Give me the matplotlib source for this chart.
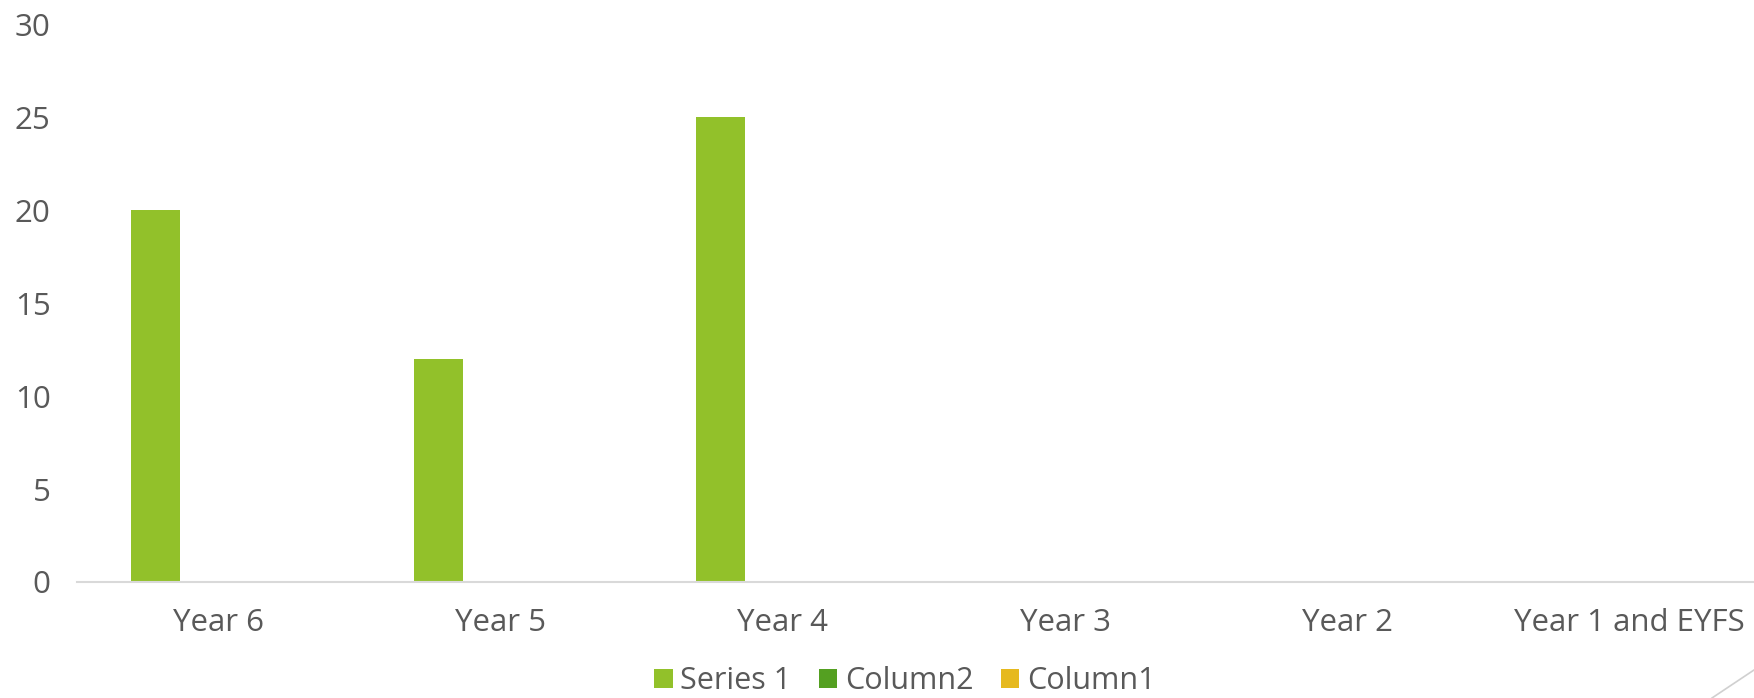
import matplotlib
matplotlib.use("Agg")
import matplotlib.pyplot as plt
from matplotlib.lines import Line2D
from matplotlib.patches import Patch
import numpy as np

# --- data ---
categories = ["Year 6", "Year 5", "Year 4", "Year 3", "Year 2", "Year 1 and EYFS"]
series_names = ["Series 1", "Column2", "Column1"]
series_1 = [20, 12, 25, 0, 0, 0]
column2 = [0, 0, 0, 0, 0, 0]
column1 = [0, 0, 0, 0, 0, 0]
y_ticks = [0, 5, 10, 15, 20, 25, 30]

colors = ["#92C12A", "#54A021", "#E6B91E"]
text_color = "#595959"

plt.rcParams["font.family"] = ["Open Sans", "DejaVu Sans"]

fig = plt.figure(figsize=(17.54, 6.98), dpi=100)
ax = fig.add_axes([0.0439, 0.1662, 0.9658, 0.7986])

x = np.arange(len(categories))
width = 0.1735
offsets = [-0.221, 0.0, 0.221]
for vals, off, col, name in zip([series_1, column2, column1], offsets, colors, series_names):
    ax.bar(x + off, vals, width=width, color=col, linewidth=0, label=name)

ax.set_xlim(-0.5, len(categories) - 0.5)
ax.set_ylim(0, 30)
ax.set_yticks(y_ticks)
ax.set_xticks(x)
ax.set_xticklabels(categories)

for side in ["top", "right", "left"]:
    ax.spines[side].set_visible(False)
ax.spines["bottom"].set_color("#D9D9D9")
ax.spines["bottom"].set_linewidth(1.5)

ax.tick_params(axis="y", length=0, pad=19, labelsize=22.5, labelcolor=text_color)
ax.tick_params(axis="x", length=0, pad=19, labelsize=22.5, labelcolor=text_color)

handles = [Patch(facecolor=c, edgecolor="none") for c in colors]
fig.legend(handles, series_names, loc="lower center", ncol=3, frameon=False,
           fontsize=22, labelcolor=text_color, bbox_to_anchor=(0.516, -0.037),
           handlelength=0.6, handleheight=0.6, handletextpad=0.25, columnspacing=0.9)

# slide decoration at bottom right corner
fig.add_artist(Line2D([1712 / 1754, 1.0], [0.0, 28 / 698], color="#D0D0D0", linewidth=1.2))

fig.savefig("out.png", dpi=100)
